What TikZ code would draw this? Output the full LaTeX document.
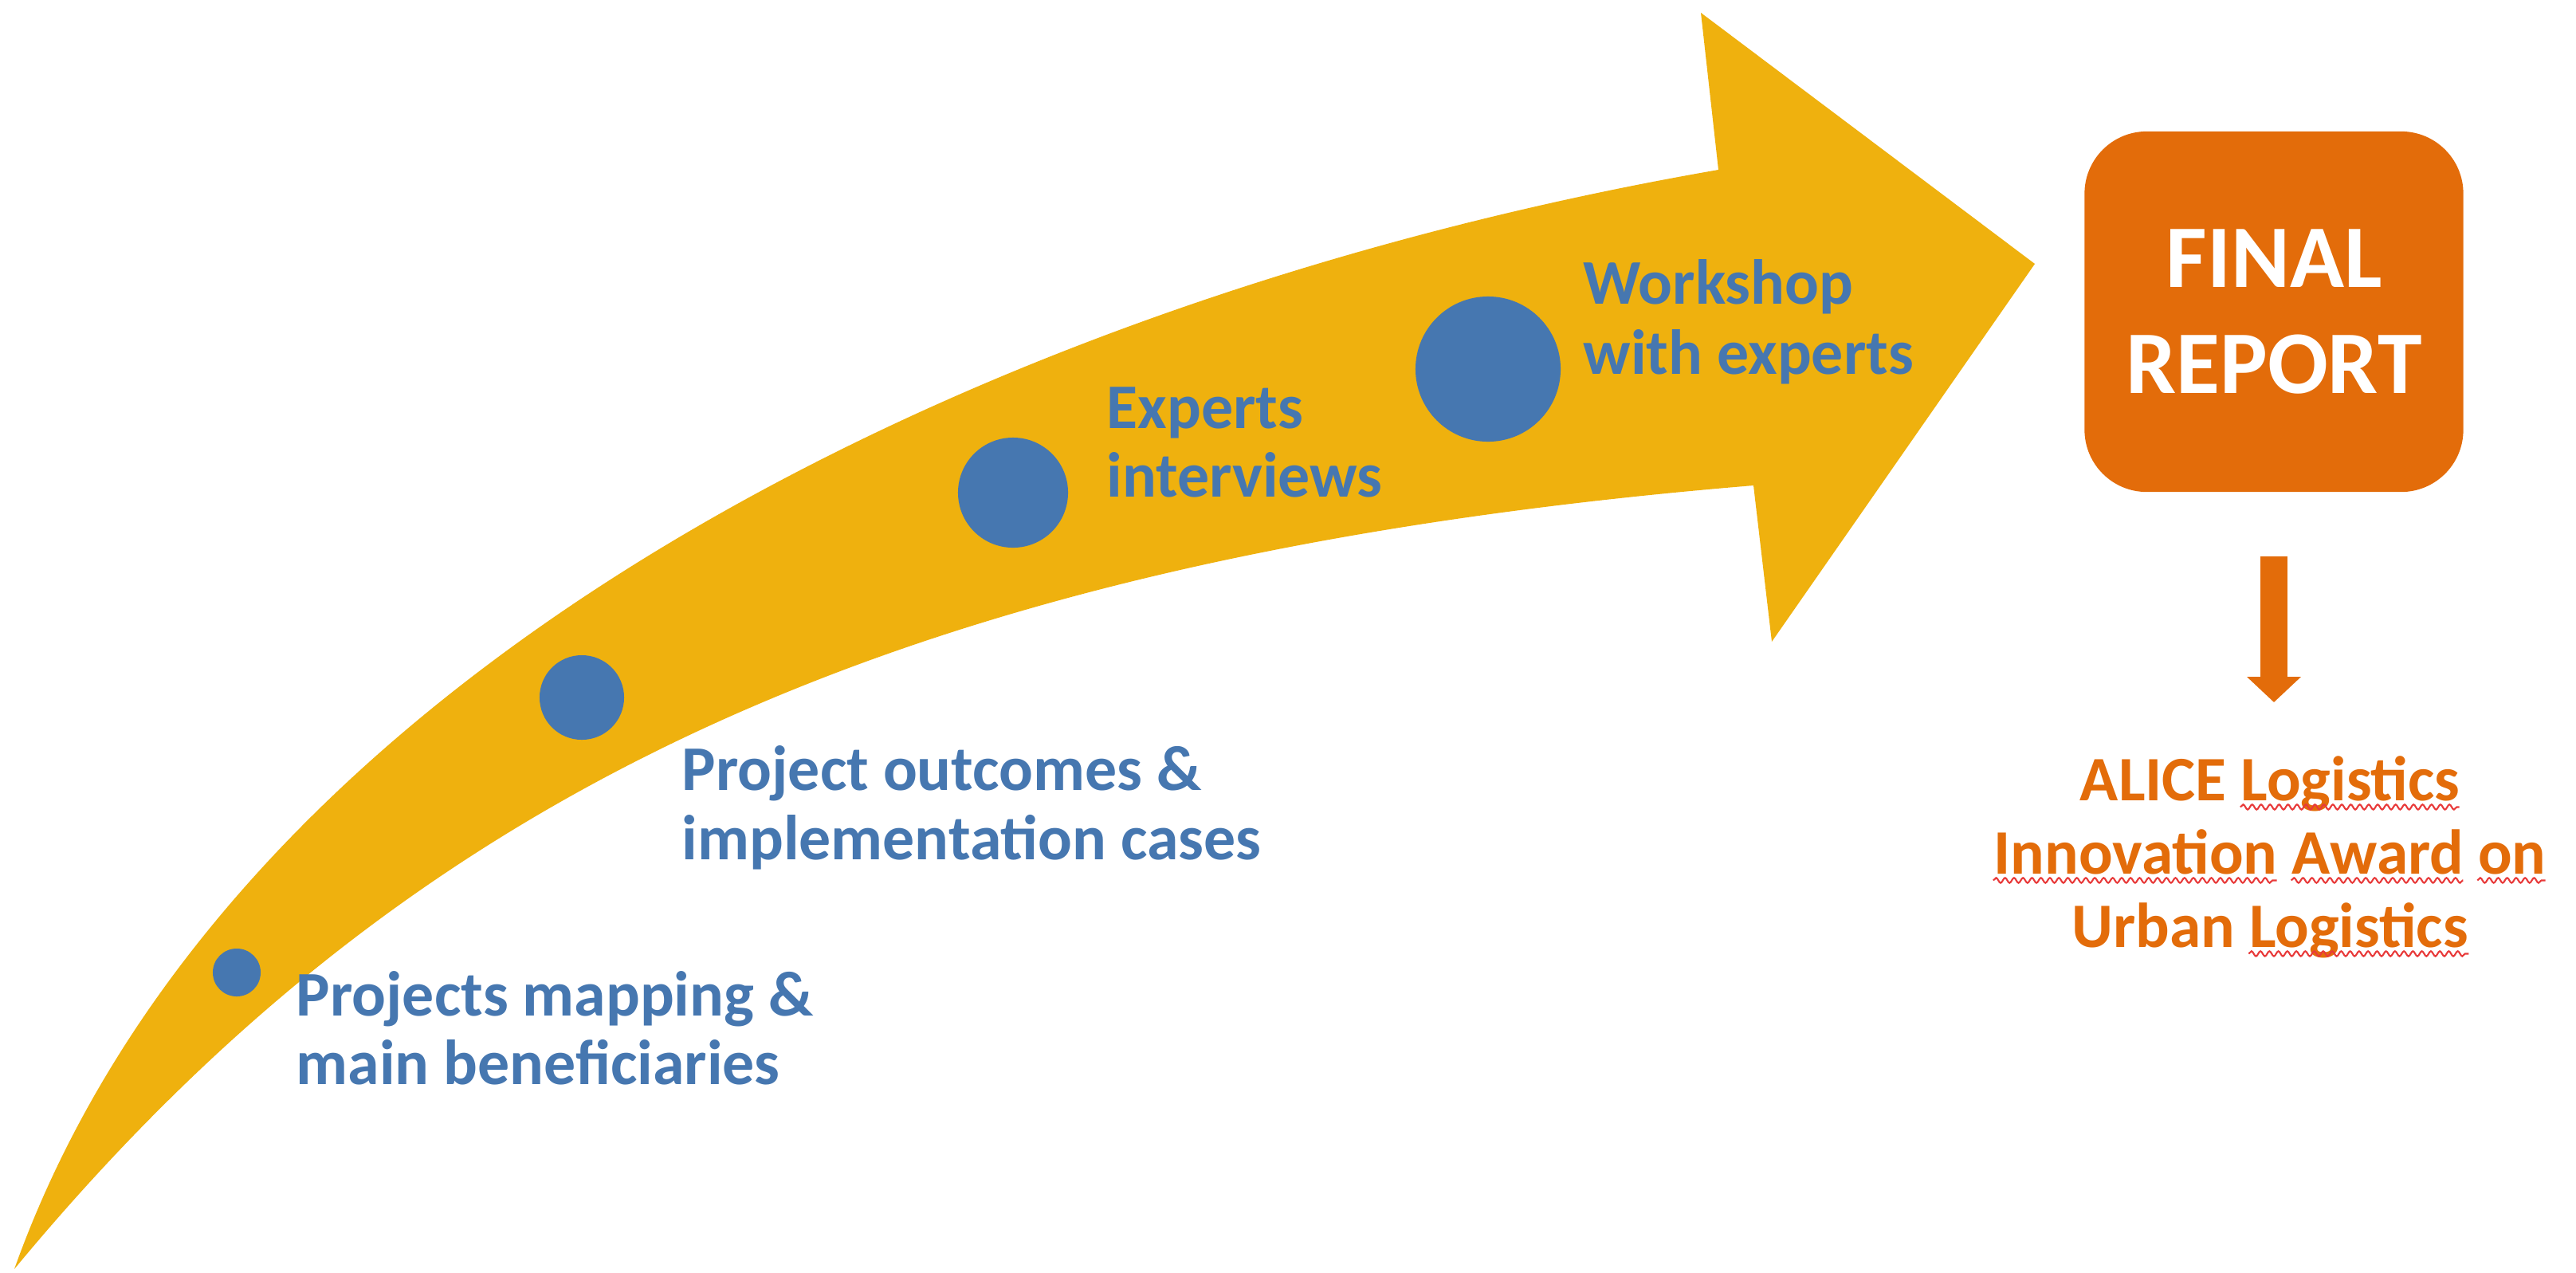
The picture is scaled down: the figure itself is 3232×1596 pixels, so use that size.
\documentclass[tikz,border=0pt]{standalone}
\usepackage{fontspec}
\setmainfont{Carlito}
\usetikzlibrary{arrows.meta,decorations.pathmorphing}

\definecolor{arrowgold}{RGB}{239,177,14}
\definecolor{stepblue}{RGB}{70,119,176}
\definecolor{reportorange}{RGB}{227,108,10}
\definecolor{spellred}{RGB}{232,58,58}

\newcommand\blufont{\fontsize{22.7pt}{25pt}\selectfont\bfseries}
\newcommand\repfont{\fontsize{31.9pt}{38.1pt}\selectfont\bfseries}
\newcommand\awdfont{\fontsize{22.6pt}{26.2pt}\selectfont\bfseries}

\newlength\sqA \newlength\sqB \newlength\sqC \newlength\sqD
\newlength\sqE \newlength\sqF \newlength\sqG \newlength\sqH

\tikzset{
  milestone/.style={circle, fill=stepblue, inner sep=0pt},
  steptext/.style={anchor=base west, inner sep=0pt, text=stepblue, font=\blufont},
  awardtext/.style={anchor=base, inner sep=0pt, text=reportorange, font=\awdfont},
  squiggle/.style={draw=spellred, line width=0.6pt, decorate,
    decoration={snake, segment length=3.2pt, amplitude=0.9pt}},
}

\begin{document}
% word widths for the spell-check underlines
\settowidth{\sqA}{\awdfont ALICE\ }%
\settowidth{\sqB}{\awdfont ALICE Logistics}%
\settowidth{\sqC}{\awdfont Innovation}%
\settowidth{\sqD}{\awdfont Innovation\ }%
\settowidth{\sqE}{\awdfont Innovation Award}%
\settowidth{\sqF}{\awdfont Innovation Award\ }%
\settowidth{\sqG}{\awdfont Innovation Award on}%
\settowidth{\sqH}{\awdfont Urban\ }%
\begin{tikzpicture}[x=0.01cm, y=-0.01cm]
  \useasboundingbox (0,0) rectangle (3232,1596);

  % curved block arrow
  \fill[arrowgold] (18,1592) .. controls (290,830) and (1250,370) .. (2156,213)
    -- (2134,16) -- (2553,331) -- (2223,805) -- (2200,609)
    .. controls (1100,700) and (500,1010) .. (18,1592) -- cycle;

  % milestones along the arrow
  \node[milestone, minimum size=0.60cm] (m1) at (297,1220) {};
  \node[milestone, minimum size=1.06cm] (m2) at (730,875) {};
  \node[milestone, minimum size=1.38cm] (m3) at (1271,618) {};
  \node[milestone, minimum size=1.82cm] (m4) at (1867,463) {};

  % milestone labels
  \node[steptext] (s1a) at (371,1274) {Projects mapping \&};
  \node[steptext] (s1b) at (371,1360) {main beneficiaries};
  \node[steptext] (s2a) at (855,991) {Project outcomes \&};
  \node[steptext] (s2b) at (855,1078) {implementation cases};
  \node[steptext] (s3a) at (1388,537) {Experts};
  \node[steptext] (s3b) at (1388,623) {interviews};
  \node[steptext] (s4a) at (1986,381) {Workshop};
  \node[steptext] (s4b) at (1986,469) {with experts};

  % final report box
  \node[fill=reportorange, rounded corners=0.78cm, minimum width=4.75cm,
        minimum height=4.52cm, inner sep=0pt, text=white, align=center,
        font=\repfont] (report) at (2853,391) {FINAL\\REPORT};

  % award text
  \node[awardtext] (aw1) at (2848,1004) {ALICE Logistics};
  \node[awardtext] (aw2) at (2848,1096) {Innovation Award on};
  \node[awardtext] (aw3) at (2848,1188) {Urban Logistics};

  % arrow from the report down to the award
  \coordinate (awardtop) at (2853,881);
  \draw[reportorange, line width=9.4pt, shorten <=0.8cm,
        -{Triangle[width=18.8pt, length=9.1pt]}] (report.south) -- (awardtop);

  % wavy underlines
  \draw[squiggle] ([xshift=\sqA, yshift=-2.4pt]aw1.base west) -- ([xshift=\sqB, yshift=-2.4pt]aw1.base west);
  \draw[squiggle] ([yshift=-2.4pt]aw2.base west) -- ([xshift=\sqC, yshift=-2.4pt]aw2.base west);
  \draw[squiggle] ([xshift=\sqD, yshift=-2.4pt]aw2.base west) -- ([xshift=\sqE, yshift=-2.4pt]aw2.base west);
  \draw[squiggle] ([xshift=\sqF, yshift=-2.4pt]aw2.base west) -- ([xshift=\sqG, yshift=-2.4pt]aw2.base west);
  \draw[squiggle] ([xshift=\sqH, yshift=-2.4pt]aw3.base west) -- ([yshift=-2.4pt]aw3.base east);
\end{tikzpicture}
\end{document}
